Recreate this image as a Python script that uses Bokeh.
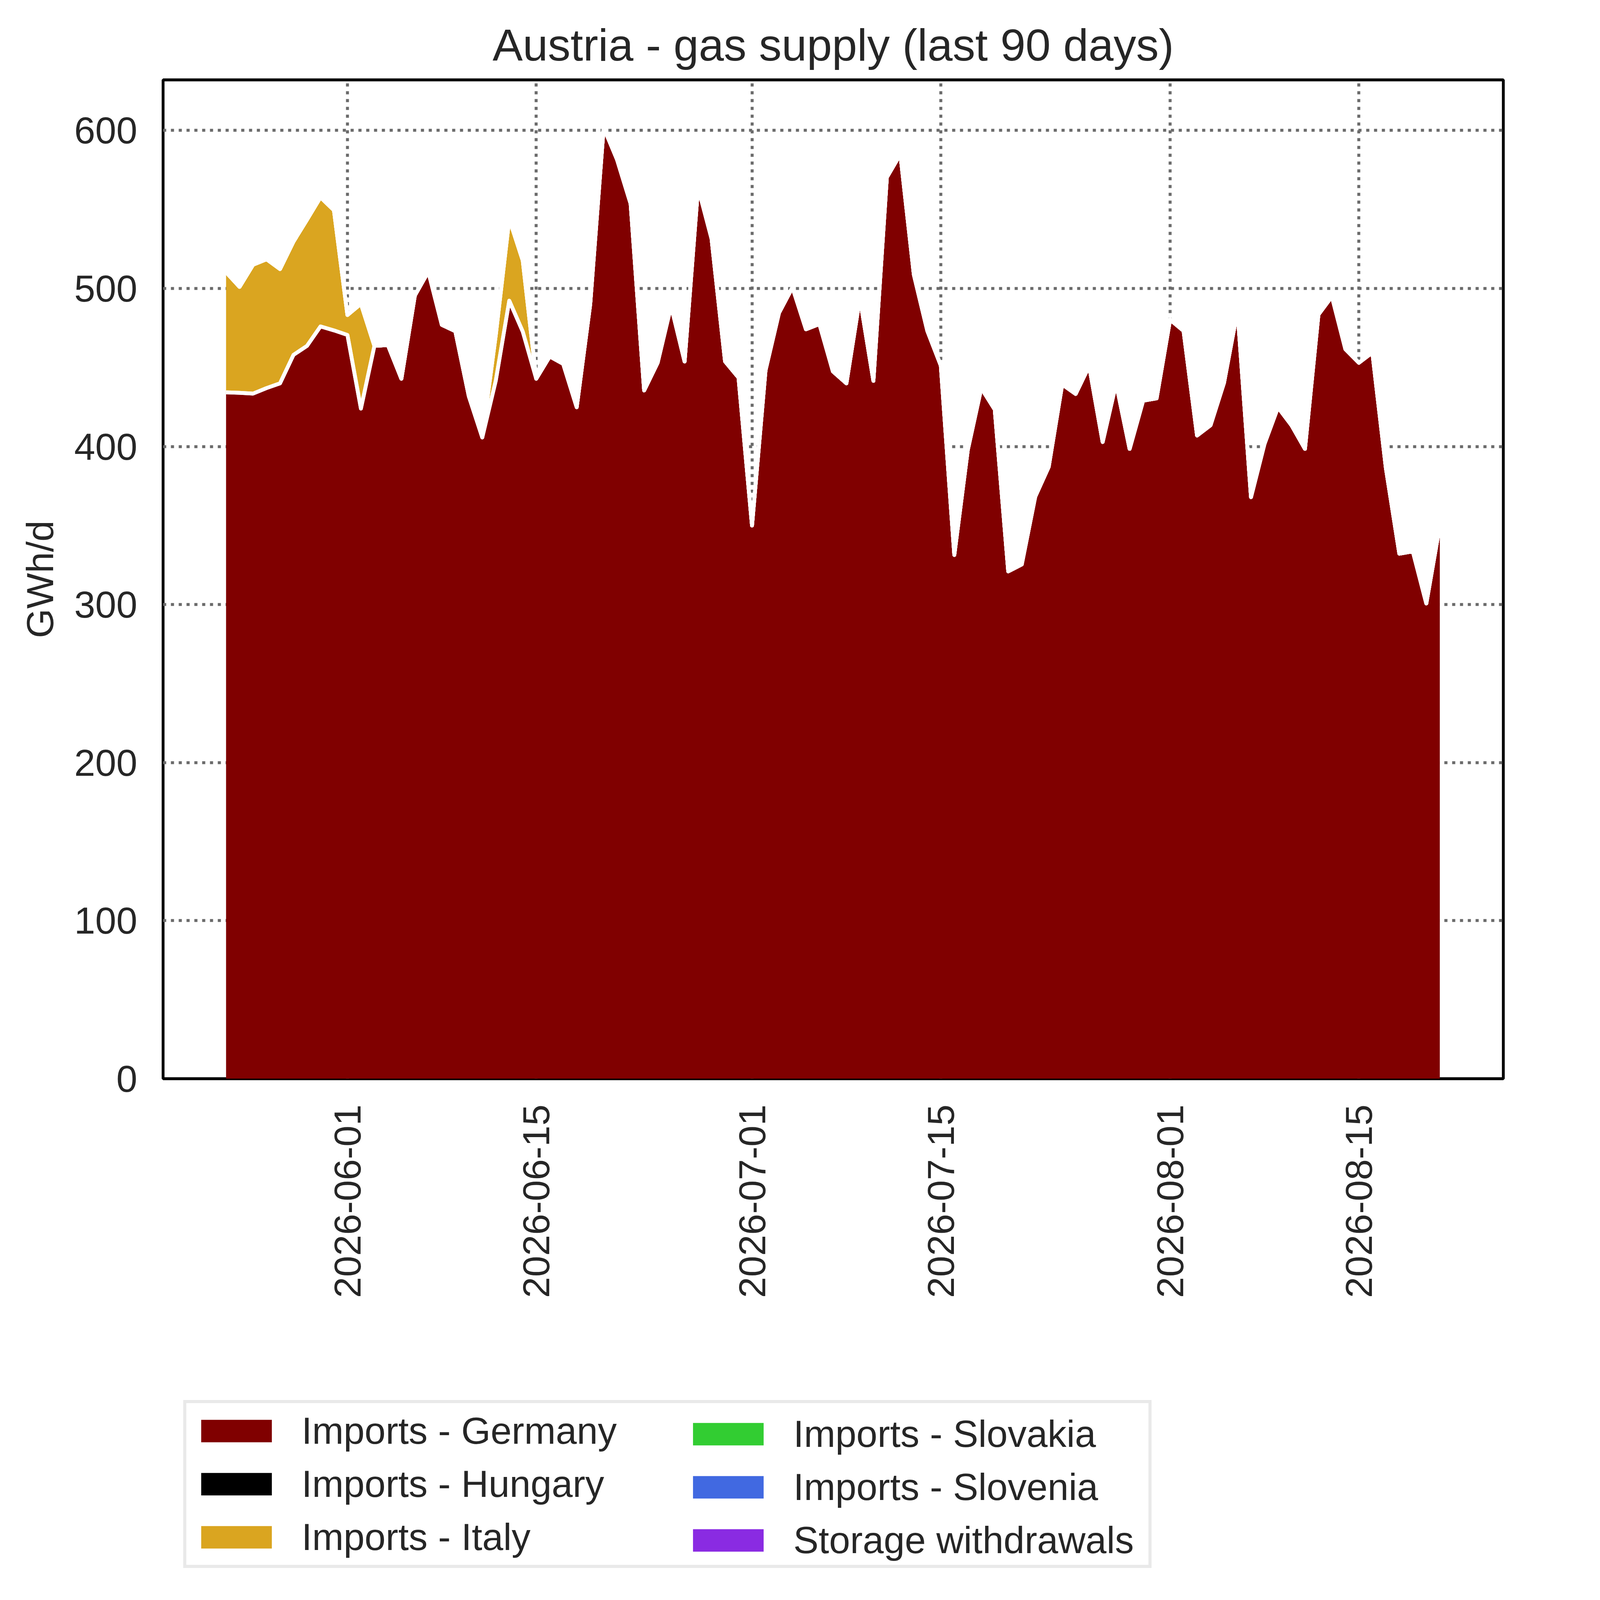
import math
import pandas as pd
from bokeh.plotting import figure
from bokeh.layouts import column
from bokeh.models import (ColumnDataSource, FixedTicker, DatetimeTickFormatter,
                          Legend, LegendItem, Range1d)
from bokeh.embed import file_html
from bokeh.resources import INLINE

# ---------------- data ----------------
start_date = "2026-05-23"
end_date = "2026-08-21"

germany = [
    434.3, 434.0, 433.5, 437.0, 440.0, 458.0, 463.7, 476.0, 473.5, 470.6,
    424.0, 463.7, 464.2, 442.9, 495.6, 510.7, 477.0, 473.0, 431.9, 405.8,
    441.7, 492.3, 472.7, 442.9, 457.0, 452.3, 424.9, 489.9, 601.9, 581.4,
    553.6, 435.5, 453.0, 489.0, 453.8, 564.0, 531.5, 453.9, 443.6, 350.0,
    448.2, 484.6, 500.7, 474.2, 477.5, 447.5, 440.0, 494.0, 441.6, 570.4,
    585.0, 508.8, 473.2, 451.2, 331.4, 397.9, 437.0, 423.4, 321.0, 325.4,
    368.3, 387.2, 439.3, 433.3, 451.0, 402.9, 440.0, 398.5, 429.0, 430.5,
    480.3, 473.2, 407.0, 413.5, 440.4, 486.0, 368.0, 401.7, 424.8, 413.5,
    398.5, 483.5, 495.0, 461.6, 453.0, 459.5, 386.5, 332.2, 333.7, 300.7,
    350.0,
]
hungary = [
    0, 0, 0, 0, 0, 0, 0, 0, 0, 0, 0, 0, 0, 0, 0, 0, 0, 0, 0, 0,
    0, 0, 0, 0, 0, 0, 0, 0, 0, 0, 0, 0, 0, 0, 0, 0, 0, 0, 0, 0,
    0, 0, 0, 0, 0, 0, 0, 0, 0, 0, 0, 0, 0, 0, 0, 0, 0, 0, 0, 0,
    0, 0, 0, 0, 0, 0, 0, 0, 0, 0, 0, 0, 0, 0, 0, 0, 0, 0, 0, 0,
    0, 0, 0, 0, 0, 0, 0, 0, 0, 0, 0,
]
italy = [
    76.0, 67.0, 81.5, 81.5, 72.3, 71.7, 79.8, 81.7, 76.0, 12.6,
    66.3, 0, 0, 0, 0, 0, 0, 0, 0, 0,
    29.0, 51.7, 45.0, 0, 0, 0, 0, 0, 0, 0,
    0, 0, 0, 0, 0, 0, 0, 0, 0, 0, 0, 0, 0, 0, 0, 0, 0, 0, 0, 0,
    0, 0, 0, 0, 0, 0, 0, 0, 0, 0, 0, 0, 0, 0, 0, 0, 0, 0, 0, 0,
    0, 0, 0, 0, 0, 0, 0, 0, 0, 0, 0, 0, 0, 0, 0, 0, 0, 0, 0, 0,
    0,
]
slovakia = [
    0, 0, 0, 0, 0, 0, 0, 0, 0, 0, 0, 0, 0, 0, 0, 0, 0, 0, 0, 0,
    0, 0, 0, 0, 0, 0, 0, 0, 0, 0, 0, 0, 0, 0, 0, 0, 0, 0, 0, 0,
    0, 0, 0, 0, 0, 0, 0, 0, 0, 0, 0, 0, 0, 0, 0, 0, 0, 0, 0, 0,
    0, 0, 0, 0, 0, 0, 0, 0, 0, 0, 0, 0, 0, 0, 0, 0, 0, 0, 0, 0,
    0, 0, 0, 0, 0, 0, 0, 0, 0, 0, 0,
]
slovenia = [
    0, 0, 0, 0, 0, 0, 0, 0, 0, 0, 0, 0, 0, 0, 0, 0, 0, 0, 0, 0,
    0, 0, 0, 0, 0, 0, 0, 0, 0, 0, 0, 0, 0, 0, 0, 0, 0, 0, 0, 0,
    0, 0, 0, 0, 0, 0, 0, 0, 0, 0, 0, 0, 0, 0, 0, 0, 0, 0, 0, 0,
    0, 0, 0, 0, 0, 0, 0, 0, 0, 0, 0, 0, 0, 0, 0, 0, 0, 0, 0, 0,
    0, 0, 0, 0, 0, 0, 0, 0, 0, 0, 0,
]
storage = [
    0, 0, 0, 0, 0, 0, 0, 0, 0, 0, 0, 0, 0, 0, 0, 0, 0, 0, 0, 0,
    0, 0, 0, 0, 0, 0, 0, 0, 0, 0, 0, 0, 0, 0, 0, 0, 0, 0, 0, 0,
    0, 0, 0, 0, 0, 0, 0, 0, 0, 0, 0, 0, 0, 0, 0, 0, 0, 0, 0, 0,
    0, 0, 0, 0, 0, 0, 0, 0, 0, 0, 0, 0, 0, 0, 0, 0, 0, 0, 0, 0,
    0, 0, 0, 0, 0, 0, 0, 0, 0, 0, 0,
]

series_names = ["Imports - Germany", "Imports - Hungary", "Imports - Italy",
                "Imports - Slovakia", "Imports - Slovenia", "Storage withdrawals"]
series_colors = ["#800000", "#000000", "#DAA520", "#32CD32", "#4169E1", "#8A2BE2"]
x_tick_labels = ["2026-06-01", "2026-06-15", "2026-07-01",
                 "2026-07-15", "2026-08-01", "2026-08-15"]
y_ticks = [0, 100, 200, 300, 400, 500, 600]
title_text = "Austria - gas supply (last 90 days)"
y_label = "GWh/d"

# ---------------- layout scale (CSS px per reference px) ----------------
S = 0.6915
M = 8  # page margin


def pos(v):
    return v * S - M


def sz(v):
    return v * S


W = int(5675 * S) - 2 * M - 2
H = int(5923 * S) - 2 * M - 2
F_LEFT, F_RIGHT, F_TOP, F_BOT = 615, 5577, 306, 4004  # frame in reference px
SPLIT = 5000  # reference y where the legend strip begins
H1 = int(round(pos(SPLIT)))
H2 = H - H1

# ---------------- build stacked source ----------------
dates = pd.date_range(start_date, end_date, freq="D")
layers = [germany, hungary, italy, slovakia, slovenia, storage]
data = {"date": dates}
base = [0.0] * len(dates)
for i, vals in enumerate(layers):
    top = [b + v for b, v in zip(base, vals)]
    data["b%d" % i] = base
    data["t%d" % i] = top
    base = top
source = ColumnDataSource(data)

FONT = "Liberation Sans"
TXT = "#262626"
TICK_FS = "%.1fpx" % sz(140)

x_range = Range1d(dates[0] - pd.Timedelta(days=4.67), dates[-1] + pd.Timedelta(days=4.71))

fig = figure(
    width=W, height=H1,
    x_axis_type="datetime",
    x_range=x_range,
    y_range=Range1d(0, 632),
    output_backend="svg", toolbar_location=None,
    min_border_left=int(round(pos(F_LEFT))),
    min_border_right=int(round(W - pos(F_RIGHT))),
    min_border_top=int(round(pos(F_TOP))),
    min_border_bottom=int(round(H1 - pos(F_BOT))),
    background_fill_color="white", border_fill_color="white",
)

# title
fig.title.text = title_text
fig.title.text_font = FONT
fig.title.text_font_size = "%.1fpx" % sz(167.5)
fig.title.text_font_style = "normal"
fig.title.text_color = TXT
fig.title.align = "center"
fig.title.standoff = sz(70)

# areas
for i, color in enumerate(series_colors):
    fig.varea(x="date", y1="b%d" % i, y2="t%d" % i, source=source,
              fill_color=color, fill_alpha=1.0)
# white edges on each layer's top
for i in range(len(layers)):
    fig.line(x="date", y="t%d" % i, source=source, line_color="white",
             line_width=sz(14), line_join="round")

# axes
tick_ms = [pd.Timestamp(d).value // 10**6 for d in x_tick_labels]
fig.xaxis.ticker = FixedTicker(ticks=tick_ms)
fmt = "%Y-%m-%d"
fig.xaxis.formatter = DatetimeTickFormatter(days=fmt, months=fmt, years=fmt, hours=fmt)
fig.xaxis.major_label_orientation = math.pi / 2
fig.yaxis.ticker = FixedTicker(ticks=y_ticks)

for ax in (fig.xaxis, fig.yaxis):
    ax.major_label_text_font = FONT
    ax.major_label_text_font_size = TICK_FS
    ax.major_label_text_color = TXT
    ax.major_tick_line_color = None
    ax.minor_tick_line_color = None
    ax.major_tick_out = 0
    ax.major_tick_in = 0
    ax.axis_line_color = None
    ax.major_label_standoff = int(round(sz(96)))

fig.yaxis.axis_label = y_label
fig.yaxis.axis_label_text_font = FONT
fig.yaxis.axis_label_text_font_size = TICK_FS
fig.yaxis.axis_label_text_font_style = "normal"
fig.yaxis.axis_label_text_color = TXT
fig.yaxis.axis_label_standoff = int(round(sz(44)))

# grid
fig.xgrid.ticker = FixedTicker(ticks=tick_ms)
fig.ygrid.ticker = FixedTicker(ticks=y_ticks)
for g in (fig.xgrid, fig.ygrid):
    g.grid_line_color = "#6b6b6b"
    g.grid_line_width = sz(11)
    g.grid_line_dash = "%d %d" % (round(sz(11)), round(sz(18)))

# frame
fig.outline_line_color = "black"
fig.outline_line_width = sz(10.5)

# ---------------- legend strip (a second figure below the chart) ----------------
leg_fig = figure(
    width=W, height=H2, x_axis_type="datetime", x_range=x_range,
    y_range=Range1d(-2000, -1000),  # keeps its copies of the areas out of view
    output_backend="svg", toolbar_location=None, min_border=0,
    x_axis_location=None, y_axis_location=None,
    background_fill_color="white", border_fill_color="white",
)
leg_fig.outline_line_color = None
leg_fig.grid.visible = False
leg_renderers = []
for i, color in enumerate(series_colors):
    r = leg_fig.varea(x="date", y1="b%d" % i, y2="t%d" % i, source=source,
                      fill_color=color, fill_alpha=1.0)
    leg_renderers.append(r)

# Bokeh insets area legend glyphs by 10% on each side -> enlarge the box
GLYPH_W, GLYPH_H = 262 / 0.8, 83 / 0.8
PAD = 22
BOX_LEFT = 690
STANDOFF = 78
common = dict(
    padding=int(round(sz(PAD))), spacing=int(round(sz(34))), margin=0,
    label_height=int(round(sz(156))), glyph_width=int(round(sz(GLYPH_W))),
    glyph_height=int(round(sz(GLYPH_H))), label_standoff=int(round(sz(STANDOFF))),
    label_text_font=FONT, label_text_font_size=TICK_FS, label_text_color=TXT,
)
LEG_BOTTOM = 5815
strip_top_css = SPLIT * S
leg_y = int(round(H2 - (LEG_BOTTOM * S - strip_top_css)))
items1 = [LegendItem(label=series_names[i], renderers=[leg_renderers[i]]) for i in range(3)]
items2 = [LegendItem(label=series_names[i], renderers=[leg_renderers[i]]) for i in range(3, 6)]
leg1 = Legend(items=items1, location=(int(round((BOX_LEFT - F_LEFT) * S)), leg_y),
              label_width=int(round(sz(4253 - BOX_LEFT - 2 * PAD - GLYPH_W - STANDOFF))),
              border_line_color="#d3d3d3", border_line_width=sz(13),
              background_fill_color="white", background_fill_alpha=1.0, **common)
col2_glyph_left = 2577
leg2 = Legend(items=items2,
              location=(int(round((col2_glyph_left - 0.1 * GLYPH_W - PAD - F_LEFT) * S)), leg_y),
              border_line_alpha=0.0, background_fill_alpha=0.0, **common)
leg_fig.add_layout(leg1, "center")
leg_fig.add_layout(leg2, "center")

p = column(fig, leg_fig, spacing=0)

open("out.html", "w").write(file_html(p, INLINE))
